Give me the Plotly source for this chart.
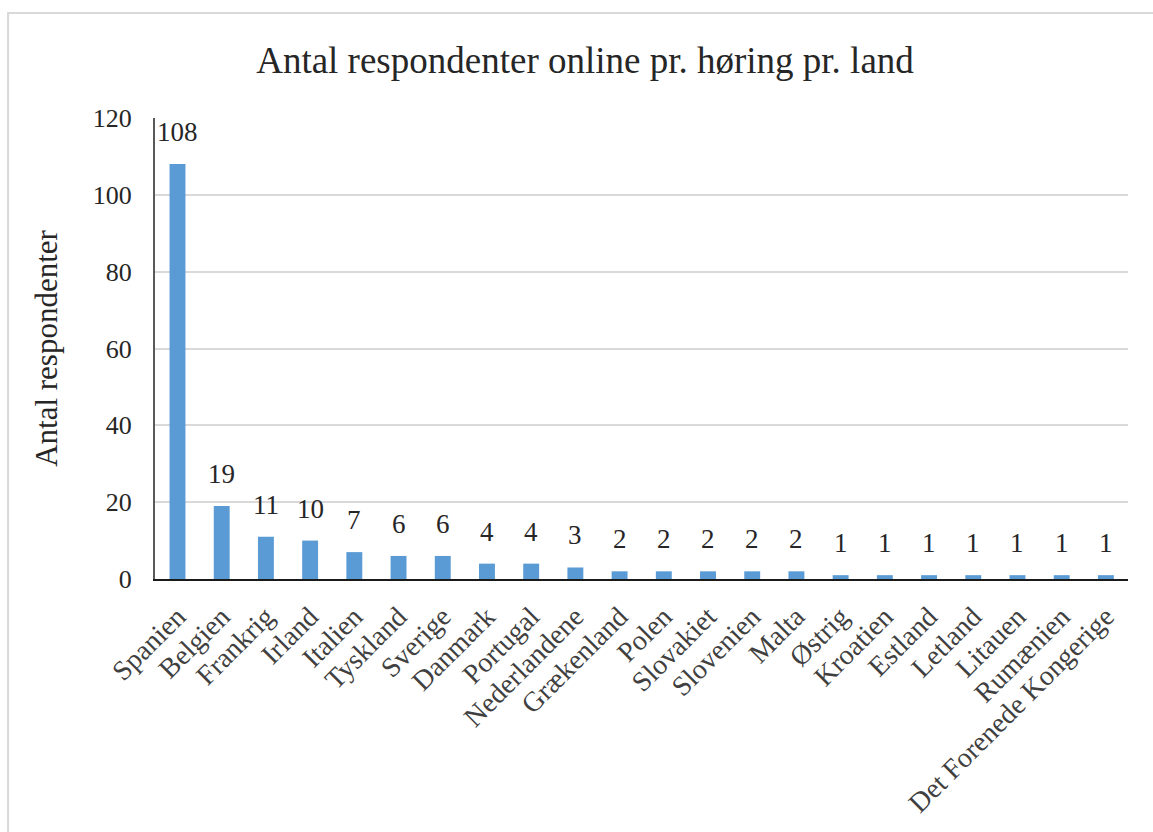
import plotly.graph_objects as go

# Respondents per country in the online consultation
countries = [
    "Spanien", "Belgien", "Frankrig", "Irland", "Italien", "Tyskland",
    "Sverige", "Danmark", "Portugal", "Nederlandene", "Grækenland",
    "Polen", "Slovakiet", "Slovenien", "Malta", "Østrig", "Kroatien",
    "Estland", "Letland", "Litauen", "Rumænien", "Det Forenede Kongerige",
]
respondents = [108, 19, 11, 10, 7, 6, 6, 4, 4, 3, 2, 2, 2, 2, 2, 1, 1, 1, 1, 1, 1, 1]

y_ticks = [0, 20, 40, 60, 80, 100, 120]

FONT = "Liberation Serif, Times New Roman, serif"
BAR_BLUE = "#5B9BD5"
TEXT = "#262626"

fig = go.Figure()
fig.add_trace(go.Bar(
    x=countries,
    y=respondents,
    marker=dict(color=BAR_BLUE, line=dict(width=0)),
    hoverinfo="x+y",
))

# value labels above each bar
for c, v in zip(countries, respondents):
    fig.add_annotation(
        x=c, y=v, text=str(v), showarrow=False,
        yanchor="bottom", yshift=15,
        font=dict(family=FONT, size=27, color=TEXT),
    )

# outer frame around the chart
fig.add_shape(
    type="rect", xref="paper", yref="paper",
    x0=-0.151, x1=1.1, y0=-0.6, y1=1.228,
    line=dict(color="#d9d9d9", width=2), layer="below",
)

fig.update_layout(
    width=1153, height=832,
    margin=dict(l=155, r=25, t=118, b=253),
    paper_bgcolor="white", plot_bgcolor="white",
    showlegend=False,
    bargap=0.64,
    title=dict(
        text="Antal respondenter online pr. høring pr. land",
        x=585 / 1153, xanchor="center", xref="container",
        y=0.928, yanchor="middle",
        font=dict(family=FONT, size=37, color=TEXT),
    ),
    font=dict(family=FONT, color=TEXT),
)

fig.update_xaxes(
    tickangle=-45,
    tickfont=dict(family=FONT, size=28, color="#404040"),
    showline=True, linecolor="#1a1a1a", linewidth=2,
    ticks="", showgrid=False, ticklabelstandoff=8,
)

fig.update_yaxes(
    range=[0, 120],
    tickvals=y_ticks,
    tickfont=dict(family=FONT, size=26, color=TEXT),
    showgrid=True, gridcolor="#d9d9d9", gridwidth=2,
    showline=True, linecolor="#595959", linewidth=2,
    zeroline=False, ticks="", ticklabelstandoff=16,
    title=dict(
        text="Antal respondenter",
        font=dict(family=FONT, size=31, color=TEXT),
        standoff=26,
    ),
)

fig.write_html("out.html")
